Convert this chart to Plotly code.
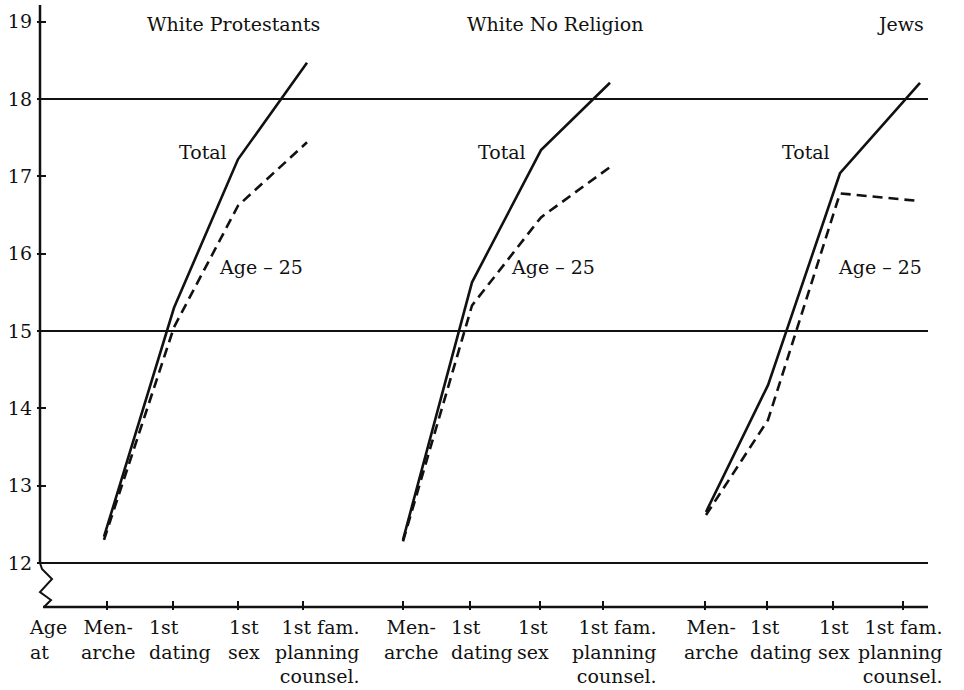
import plotly.graph_objects as go

# ---------------- data ----------------
groups = ["White Protestants", "White No Religion", "Jews"]
stages = ["Menarche", "1st dating", "1st sex", "1st fam. planning counsel."]
stage_labels = ["Men-<br>arche", "1st<br>dating", "1st<br>sex", "1st fam.<br>planning<br>counsel."]
total_wp = [12.34, 15.30, 17.22, 18.47]
age25_wp = [12.30, 15.05, 16.62, 17.44]
total_nr = [12.30, 15.63, 17.34, 18.21]
age25_nr = [12.28, 15.33, 16.47, 17.12]
total_jw = [12.66, 14.30, 17.04, 18.21]
age25_jw = [12.62, 13.85, 16.78, 16.68]
y_ticks = [12, 13, 14, 15, 16, 17, 18, 19]
ref_lines = [12, 15, 18]

totals = [total_wp, total_nr, total_jw]
age25s = [age25_wp, age25_nr, age25_jw]

# ---------------- layout helpers (positions along the x axis) ----------------
point_pos = [[64, 134, 198, 267], [363, 432, 501, 570], [666, 728, 800, 880]]
tick_pos = [[67, 133, 198, 263], [363, 430, 500, 563], [665, 727, 793, 863]]
label_pos = [[68, 140, 204, 277], [371, 442, 493, 574], [671, 741, 794, 860]]
title_pos = [193, 515, 860]
total_lbl_pos = [163, 462, 766]
age_lbl_pos = [221, 513, 840]

PX_PER_UNIT = 77.33
TOP_PX, BOT_PX = 5, 610
def yv(px):  # page pixel row -> y value (decorations only)
    return 12 - (px - 563) / PX_PER_UNIT
def yp(px):  # page pixel row -> paper fraction
    return (BOT_PX - px) / (BOT_PX - TOP_PX)

FONT = "DejaVu Serif"
INK = "#111111"

fig = go.Figure()
for g in range(3):
    fig.add_trace(go.Scatter(x=point_pos[g], y=totals[g], mode="lines",
                             line=dict(color=INK, width=2.6), showlegend=False,
                             hoverinfo="skip"))
    fig.add_trace(go.Scatter(x=point_pos[g], y=age25s[g], mode="lines",
                             line=dict(color=INK, width=2.6, dash="10px,6px"),
                             showlegend=False, hoverinfo="skip"))

shapes = []
for v in ref_lines:
    shapes.append(dict(type="line", xref="x", yref="y", x0=0, x1=888, y0=v, y1=v,
                       line=dict(color=INK, width=2)))
# left axis line (stops at 12), zig-zag break, bottom axis
shapes.append(dict(type="line", xref="x", yref="y", x0=0, x1=0, y0=12, y1=yv(5),
                   line=dict(color=INK, width=2.5)))
zz = [(0, 563), (2, 569), (12, 579), (0, 592), (11, 600), (4, 607)]
path = "M " + " L ".join(f"{x},{yv(p)}" for x, p in zz)
shapes.append(dict(type="path", xref="x", yref="y", path=path,
                   line=dict(color=INK, width=2)))
shapes.append(dict(type="line", xref="x", yref="y", x0=3, x1=888, y0=yv(607), y1=yv(607),
                   line=dict(color=INK, width=2.5)))

ann = []
f19 = dict(family=FONT, size=19, color=INK)
for g in range(3):
    ann.append(dict(x=title_pos[g], y=yv(24), text=groups[g], showarrow=False,
                    xanchor="center", yanchor="middle", font=f19))
    ann.append(dict(x=total_lbl_pos[g], y=yv(152), text="Total", showarrow=False,
                    xanchor="center", yanchor="middle", font=f19))
    ann.append(dict(x=age_lbl_pos[g], y=yv(267), text="Age – 25", showarrow=False,
                    xanchor="center", yanchor="middle", font=f19))
    for s in range(4):
        ann.append(dict(x=label_pos[g][s], xref="x", y=yp(614), yref="paper",
                        text=stage_labels[s], showarrow=False,
                        xanchor="center", yanchor="top",
                        align="right" if s == 3 else ("left" if s == 1 else "center"),
                        font=f19))
ann.append(dict(x=8, xref="x", y=yp(614), yref="paper", text="Age<br>at", showarrow=False,
                xanchor="center", yanchor="top", align="left", font=f19))

all_ticks = [t for grp in tick_pos for t in grp]
fig.update_layout(
    width=964, height=690,
    margin=dict(l=37, r=33, t=TOP_PX, b=690 - BOT_PX),
    paper_bgcolor="white", plot_bgcolor="white",
    shapes=shapes, annotations=ann,
    xaxis=dict(range=[-3, 891], showgrid=False, zeroline=False, showline=False,
               tickmode="array", tickvals=all_ticks, showticklabels=False,
               ticks="inside", ticklen=9, tickwidth=2, tickcolor=INK),
    yaxis=dict(range=[yv(BOT_PX), yv(TOP_PX)], showgrid=False, zeroline=False, showline=False,
               tickmode="array", tickvals=y_ticks, ticktext=[str(t) for t in y_ticks],
               ticks="inside", ticklen=9, tickwidth=2, tickcolor=INK,
               ticklabelstandoff=4, tickfont=f19),
)
fig.write_html("out.html", config={"displayModeBar": False},
               post_script="document.body.style.margin='0';")
